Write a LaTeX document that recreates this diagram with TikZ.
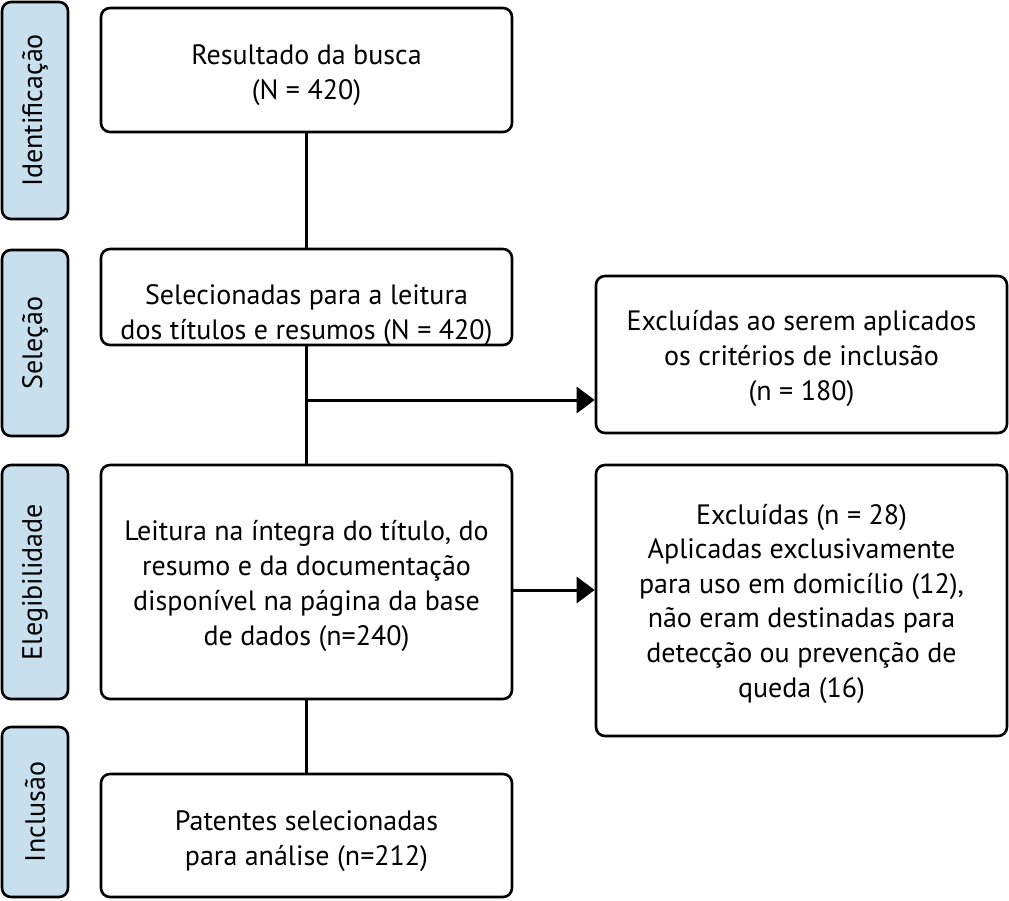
\documentclass[tikz,border=0pt]{standalone}
\usepackage{fontspec}
\setmainfont{PT Sans}
\usetikzlibrary{arrows.meta,calc}
\begin{document}
\begin{tikzpicture}[x=1pt,y=-1pt,
  box/.style={draw=black,line width=2.6pt,rounded corners=9pt,fill=white,
    minimum width=411pt,inner sep=0pt},
  btxt/.style={align=center,font=\fontsize{28}{35}\selectfont,inner sep=0pt},
  side/.style={draw=black,line width=2.6pt,rounded corners=9pt,fill=sideblue,
    minimum width=66pt,inner sep=0pt},
  sidetxt/.style={rotate=90,font=\fontsize{28}{30}\selectfont},
  conn/.style={line width=3pt},
  arr/.style={line width=3pt,-{Triangle[length=18pt,width=26pt]}}]
\definecolor{sideblue}{HTML}{C8E0EE}
\useasboundingbox (0,0) rectangle (1009,900);
% side labels
\node[side,minimum height=217pt] (s1) at (35,110.5) {};
\node[sidetxt] (s1t) at (s1.center) {Identificação};
\node[side,minimum height=186pt] (s2) at (35,343) {};
\node[sidetxt] (s2t) at (s2.center) {Seleção};
\node[side,minimum height=234pt] (s3) at (35,582) {};
\node[sidetxt] (s3t) at (s3.center) {Elegibilidade};
\node[side,minimum height=170pt] (s4) at (35,812) {};
\node[sidetxt] (s4t) at (s4.center) {Inclusão};
% main boxes
\node[box,minimum height=124pt] (b1) at (306.5,70) {};
\node[btxt] (b1t) at ([yshift=-5pt]b1.center) {Resultado da busca\\(N = 420)};
\node[box,minimum height=96pt] (b2) at (306.5,297) {};
\node[btxt] (b2t) at ([yshift=-18pt]b2.center) {Selecionadas para a leitura\\dos títulos e resumos (N = 420)};
\node[box,minimum height=234pt] (b3) at (306.5,582) {};
\node[btxt] (b3t) at ([yshift=-4pt]b3.center) {Leitura na íntegra do título, do\\resumo e da documentação\\disponível na página da base\\de dados (n=240)};
\node[box,minimum height=123pt] (b4) at (306.5,835.5) {};
\node[btxt] (b4t) at ([yshift=-6pt]b4.center) {Patentes selecionadas\\para análise (n=212)};
% right boxes
\node[box,minimum height=157pt] (r1) at (801.5,354.5) {};
\node[btxt] (r1t) at ([yshift=-4pt]r1.center) {Excluídas ao serem aplicados\\os critérios de inclusão\\(n = 180)};
\node[box,minimum height=271pt] (r2) at (801.5,600.5) {};
\node[btxt,font=\fontsize{28}{34.6}\selectfont] (r2t) at ([yshift=-3pt]r2.center) {Excluídas (n = 28)\\Aplicadas exclusivamente\\para uso em domicílio (12),\\não eram destinadas para\\detecção ou prevenção de\\queda (16)};
% connectors
\coordinate (j1) at (306.5,400);
\coordinate (j2) at (512,590);
\draw[conn] (b1.south) -- (b2.north);
\draw[conn] (b2.south) -- (b3.north);
\draw[conn] (b3.south) -- (b4.north);
\draw[arr] ([xshift=-1.5pt]j1) -- (r1.west |- j1);
\draw[arr] (j2) -- (r2.west |- j2);
\end{tikzpicture}
\end{document}
